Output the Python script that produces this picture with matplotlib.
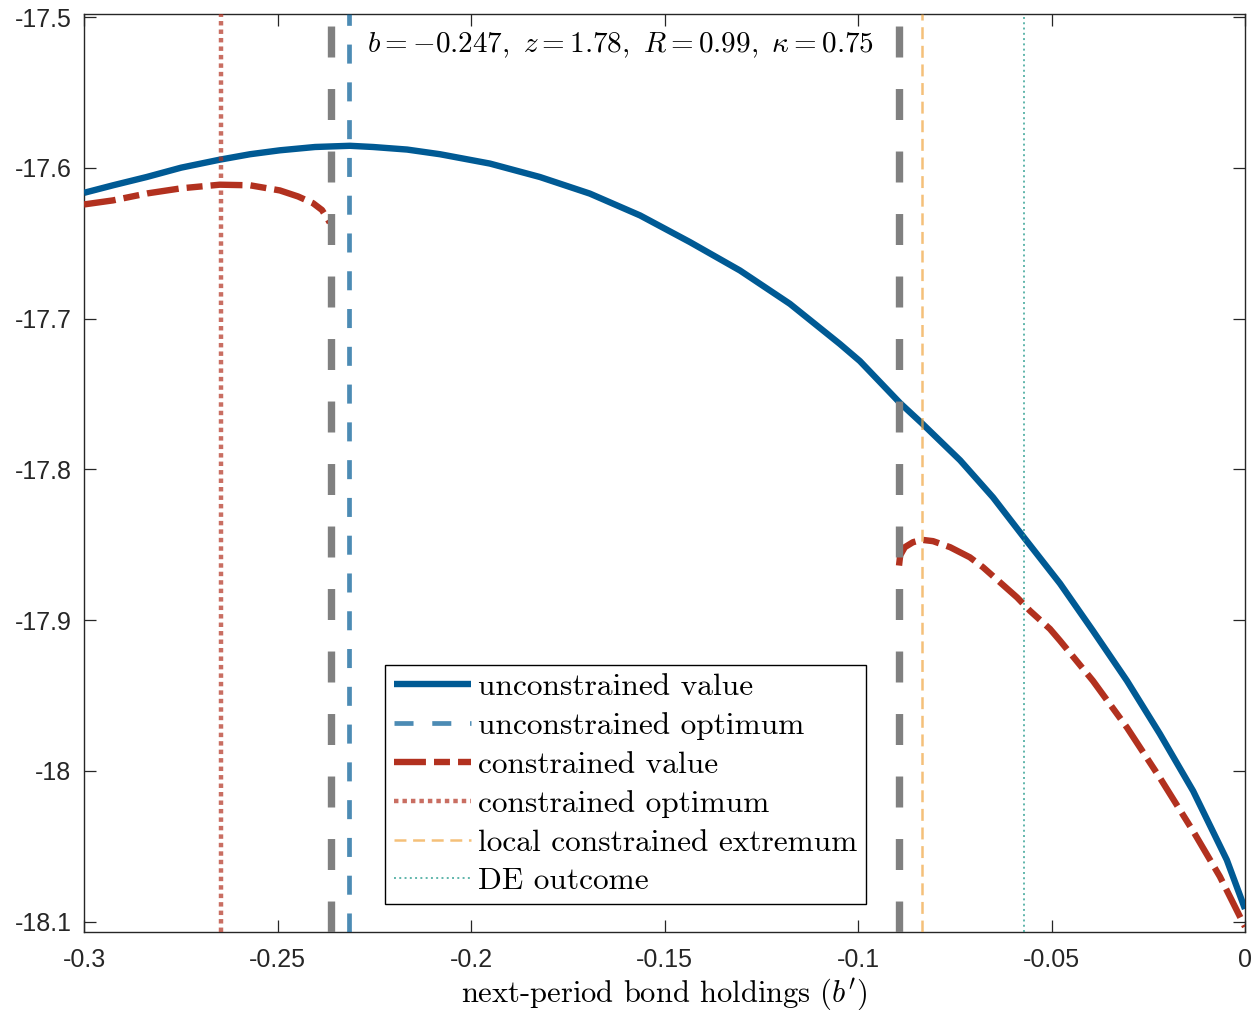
import matplotlib
matplotlib.use('Agg')
import matplotlib.pyplot as plt
from matplotlib.font_manager import FontProperties

plt.rcParams['lines.scale_dashes'] = False
plt.rcParams['mathtext.fontset'] = 'cm'
plt.rcParams['axes.unicode_minus'] = False

# ---------------- data ----------------
b_uncon = [-0.3, -0.2925, -0.2838, -0.2749, -0.2649, -0.2571, -0.2494, -0.2403,
           -0.2313, -0.2253, -0.2165, -0.2080, -0.1951, -0.1822, -0.1693, -0.1563,
           -0.1434, -0.1305, -0.1176, -0.1047, -0.0995, -0.0891, -0.0835, -0.0736,
           -0.0651, -0.0571, -0.0478, -0.0393, -0.0305, -0.0220, -0.0134, -0.0047, 0.0]
v_uncon = [-17.6166, -17.6116, -17.6061, -17.5999, -17.5946, -17.5910, -17.5884, -17.5862,
           -17.5854, -17.5862, -17.5879, -17.5910, -17.5972, -17.6061, -17.6171, -17.6316,
           -17.6493, -17.6681, -17.6902, -17.7168, -17.7282, -17.7561, -17.7694, -17.7940,
           -17.8186, -17.8452, -17.8757, -17.9070, -17.9402, -17.9754, -18.0133, -18.0590,
           -18.0915]

b_con1 = [-0.3, -0.2925, -0.2837, -0.2749, -0.2649, -0.2571, -0.2494, -0.2447,
          -0.2408, -0.2385, -0.2365]
v_con1 = [-17.6243, -17.6216, -17.6170, -17.6136, -17.6112, -17.6116, -17.6150, -17.6190,
          -17.6235, -17.6280, -17.6363]

b_con2 = [-0.0894, -0.0891, -0.0879, -0.0858, -0.0835, -0.0806, -0.0762, -0.0711,
          -0.0677, -0.0633, -0.0589, -0.0556, -0.0504, -0.0478, -0.0393, -0.0305,
          -0.0220, -0.0134, -0.0065, 0.0]
v_con2 = [-17.8638, -17.8570, -17.8516, -17.8483, -17.8467, -17.8476, -17.8516, -17.8583,
          -17.8649, -17.8749, -17.8849, -17.8937, -17.9058, -17.9136, -17.9402, -17.9712,
          -18.0045, -18.0399, -18.0700, -18.1033]

b_uncon_opt = -0.2315
b_con_opt = -0.2646
b_local_ext = -0.0835
b_de = -0.0571
b_thresholds = [-0.2362, -0.0894]

xticks = [-0.3, -0.25, -0.2, -0.15, -0.1, -0.05, 0.0]
xticklabels = ['-0.3', '-0.25', '-0.2', '-0.15', '-0.1', '-0.05', '0']
yticks = [-18.1, -18.0, -17.9, -17.8, -17.7, -17.6, -17.5]
yticklabels = ['-18.1', '-18', '-17.9', '-17.8', '-17.7', '-17.6', '-17.5']

annotation = r'$b=-0.247,\ z=1.78,\ R=0.99,\ \kappa=0.75$'
xlabel = r"next-period bond holdings ($b'$)"

# ---------------- figure ----------------
W, H = 1252, 1010
fig = plt.figure(figsize=(W / 100, H / 100), dpi=100)
ax = fig.add_axes([84 / W, 1 - 931.7 / H, (1245 - 84) / W, (931.7 - 14) / H])

BLUE = '#005a94'
RED = '#b2311f'

ax.plot(b_uncon, v_uncon, color=BLUE, lw=4.6, solid_capstyle='butt',
        solid_joinstyle='round', label='unconstrained value', zorder=3)
ax.axvline(b_uncon_opt, color=BLUE, alpha=0.7, lw=3.4, linestyle=(0, (13.7, 13.5)),
           label='unconstrained optimum', zorder=4)
red_dash = (0, (23, 5.8, 11.5, 5.8))
ax.plot(b_con1, v_con1, color=RED, lw=4.6, linestyle=red_dash,
        label='constrained value', zorder=3)
ax.plot(b_con2, v_con2, color=RED, lw=4.6, linestyle=red_dash, zorder=3)
ax.axvline(b_con_opt, color=RED, alpha=0.7, lw=3.2, linestyle=(0, (3.2, 2.9)),
           label='constrained optimum', zorder=4)
ax.axvline(b_local_ext, color='#f0a640', alpha=0.7, lw=1.8, linestyle=(0, (8.6, 4.8)),
           label='local constrained extremum', zorder=4)
ax.axvline(b_de, color='#2a9d8f', alpha=0.75, lw=1.4, linestyle=(0, (1.4, 2.4)),
           label='DE outcome', zorder=4)
for bt in b_thresholds:
    ax.axvline(bt, color='#808080', lw=5.3, linestyle=(0, (22.3, 22.7)), zorder=5)

ax.set_xlim(-0.3, 0.0)
ax.set_ylim(-18.1066, -17.498)
ax.set_xticks(xticks)
ax.set_xticklabels(xticklabels)
ax.set_yticks(yticks)
ax.set_yticklabels(yticklabels)

tick_font = FontProperties(family='Liberation Sans', size=18)
for lab in ax.get_xticklabels() + ax.get_yticklabels():
    lab.set_fontproperties(tick_font)
    lab.set_color('#262626')
ax.tick_params(direction='in', length=8.5, width=0.9, color='#262626',
               top=True, right=True)
ax.tick_params(axis='y', pad=9)
ax.tick_params(axis='x', pad=12)
for sp in ax.spines.values():
    sp.set_color('#262626')
    sp.set_linewidth(1.0)

ax.set_xlabel(xlabel, fontproperties=FontProperties(family='cmr10', size=22))
ax.xaxis.set_label_coords(0.5, (931.7 - 994) / 917.7)
ax.xaxis.label.set_va('center')

ax.text(0.4617, 0.966, annotation, transform=ax.transAxes, ha='center', va='center',
        fontsize=21, zorder=6)

leg = ax.legend(loc='upper left', bbox_to_anchor=(0.2593, 0.2906), borderaxespad=0,
                prop=FontProperties(family='cmr10', size=22.6), fancybox=False,
                framealpha=1, edgecolor='black',
                handlelength=2.48, handletextpad=0.22, borderpad=0.27, labelspacing=0.345)
leg.get_frame().set_linewidth(1.0)
leg.set_zorder(10)

fig.savefig('out.png', dpi=100)
